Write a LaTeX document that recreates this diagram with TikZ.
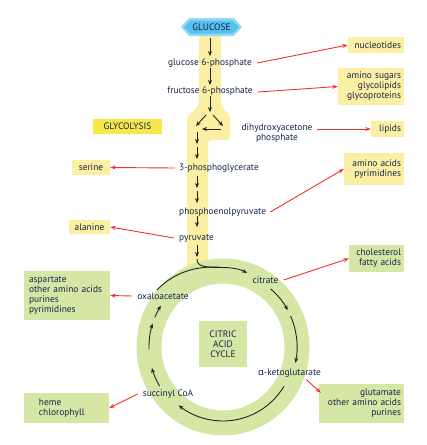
\documentclass[tikz,border=0pt]{standalone}
\usepackage{fontspec}
\setmainfont{PT Sans}
\newfontfamily\grk{Noto Sans}
\usetikzlibrary{arrows.meta,calc}
\definecolor{txt}{HTML}{16244A}
\definecolor{pyel}{HTML}{FBEFA3}
\definecolor{gyel}{HTML}{F7E74A}
\definecolor{pgrn}{HTML}{D5E6A5}
\definecolor{redarr}{HTML}{EE3426}
\definecolor{hexblue}{HTML}{56BFEC}
\definecolor{hexlight}{HTML}{93D8F5}
\definecolor{blk}{HTML}{222222}
\begin{document}
\begin{tikzpicture}[x=1pt,y=-1pt,
  lbl/.style={font=\fontsize{9.4}{10}\selectfont, text=txt, inner sep=1pt},
  boxbase/.style={font=\fontsize{9.4}{10}\selectfont, text=txt, inner xsep=3pt, inner ysep=0pt},
  ybox/.style={boxbase, fill=pyel, align=right},
  gbox/.style={boxbase, fill=pgrn, align=right},
  blkarr/.style={draw=blk, line width=0.9pt, -{Stealth[length=5pt,width=4pt]}},
  blkline/.style={draw=blk, line width=0.9pt},
  redarrow/.style={draw=redarr, line width=0.9pt, -{Stealth[length=5.5pt,width=4pt]}},
]
\useasboundingbox (0,0) rectangle (427,445);

% yellow glycolysis column
\fill[pyel, rounded corners=3pt] (199,36) -- (199,105) -- (187,117) -- (187,268) -- (208,268) -- (208,140) -- (230,140) -- (230,116) -- (221,105) -- (221,36) -- cycle;

% citric acid cycle ring
\coordinate (cc) at (223,347);
\draw[pgrn, line width=25pt] (cc) ellipse [x radius=74, y radius=76];

% glucose hexagon
\fill[hexlight] (181,27) -- (189,18) -- (234,18) -- (242,27) -- (234,36) -- (189,36) -- cycle;
\fill[hexblue] (184,27) -- (190.5,20.5) -- (232.5,20.5) -- (239,27) -- (232.5,33.5) -- (190.5,33.5) -- cycle;
\node[lbl] (glu) at (211.5,27) {GLUCOSE};

% pathway labels
\node[lbl] (g6p) at (210,63) {glucose 6-phosphate};
\node[lbl] (f6p) at (210,91) {fructose 6-phosphate};
\node[lbl, align=center] (dhap) at (277,133.5) {dihydroxyacetone\\phosphate};
\node[lbl, anchor=west] (pg3) at (178,168) {3-phosphoglycerate};
\node[lbl, anchor=west] (pep) at (178,212) {phosphoenolpyruvate};
\node[lbl, anchor=west] (pyr) at (178,239) {pyruvate};
\node[lbl] (cit) at (265.5,280) {citrate};
\node[lbl] (oxa) at (163,296) {oxaloacetate};
\node[lbl] (akg) at (289.5,373) {{\grk α}-ketoglutarate};
\node[lbl] (succ) at (168,394) {succinyl CoA};

% boxes
\node[boxbase, fill=gyel, align=center, text width=63pt, minimum height=15pt] (glyc) at (127.5,126.5) {GLYCOLYSIS};
\node[ybox, text width=50pt, minimum height=16pt] (nuc) at (376,45) {nucleotides};
\node[ybox, text width=60pt, minimum height=37pt] (amsug) at (371,86.5) {amino sugars\\glycolipids\\glycoproteins};
\node[ybox, text width=27pt, minimum height=16pt] (lip) at (387.5,129) {lipids};
\node[ybox, text width=54pt, minimum height=32pt] (aa) at (374,169) {amino acids\\pyrimidines};
\node[ybox, align=center, text width=32pt, minimum height=15pt] (ser) at (91,167.5) {serine};
\node[ybox, align=center, text width=35pt, minimum height=14pt] (ala) at (89.5,227) {alanine};
\node[gbox, text width=49pt, minimum height=27pt] (chol) at (376.5,258.5) {cholesterol\\fatty acids};
\node[gbox, align=left, inner xsep=2pt, text width=82pt, minimum height=49pt] (asp) at (67,295.5) {\hspace*{3pt}aspartate\\\hspace*{3pt}other amino acids\\\hspace*{3pt}purines\\\hspace*{3pt}pyrimidines};
\node[gbox, align=center, text width=42pt, minimum height=46pt] (cac) at (223,344) {CITRIC\\ACID\\CYCLE};
\node[gbox, text width=79pt, minimum height=39pt] (glut) at (361.5,403.5) {glutamate\\other amino acids\\purines};
\node[gbox, align=left, text width=79pt, minimum height=30pt] (heme) at (66.5,408) {\hspace*{12pt}heme\\\hspace*{12pt}chlorophyll};

% glycolysis arrows
\draw[blkarr] (210,38) -- (210,56);
\draw[blkarr] (210,68) -- (210,85);
\draw[blkarr] (210,96) -- (210,112);
\draw[blkarr] (206,115) -- (196,126);
\draw[blkarr] (213,115) -- (223,126);
\draw[blkarr] (221,129) -- (202,129);
\draw[blkarr] (197,132) -- (197,144);
\draw[blkarr] (197,147) -- (197,159);
\draw[blkarr] (197,176) -- (197,188);
\draw[blkarr] (197,191) -- (197,203);
\draw[blkarr] (197,216) -- (197,227);
\draw[blkarr] (197,245) -- (197,257);

% cycle arrows
\draw[blkline] (157,290) .. controls (174,272) and (198,265) .. (222,267.5);
\draw[blkarr] (197,259) .. controls (197,266) and (203,267.5) .. (222,267.5) .. controls (232,267.5) and (240,269) .. (247,273);
\draw[blkarr] (cc) ++(-50:74 and 76) arc[start angle=-50, end angle=-29, x radius=74, y radius=76];
\draw[blkarr] (cc) ++(-24:74 and 76) arc[start angle=-24, end angle=12, x radius=74, y radius=76];
\draw[blkarr] (cc) ++(32:72 and 74) arc[start angle=32, end angle=128, x radius=72, y radius=74];
\draw[blkarr] (cc) ++(149:74 and 76) arc[start angle=149, end angle=164, x radius=74, y radius=76];
\draw[blkarr] (cc) ++(178:74 and 76) arc[start angle=178, end angle=198, x radius=74, y radius=76];
\draw[blkarr] (cc) ++(203:74 and 76) arc[start angle=203, end angle=213, x radius=74, y radius=76];

% red branch arrows
\draw[redarrow] ($(g6p.east)+(4,0)$) -- (nuc.west);
\draw[redarrow] ($(f6p.east)+(4,1)$) -- (amsug.west);
\draw[redarrow] ($(dhap.east)+(3,-4.5)$) -- (lip.west);
\draw[redarrow] ($(pg3.west)+(-3,0)$) -- (ser.east);
\draw[redarrow] ($(pep.east)+(3,0)$) -- (aa.west);
\draw[redarrow] ($(pyr.west)+(-4,-1)$) -- (ala.east);
\draw[redarrow] ($(cit.east)+(4,0)$) -- (chol.west);
\draw[redarrow] ($(oxa.west)+(-4,0)$) -- (asp.east);
\draw[redarrow] ($(akg.south east)+(-16,1)$) -- ($(glut.north west)+(2,9)$);
\draw[redarrow] ($(succ.west)+(-4,0)$) -- (heme.east);
\end{tikzpicture}
\end{document}
